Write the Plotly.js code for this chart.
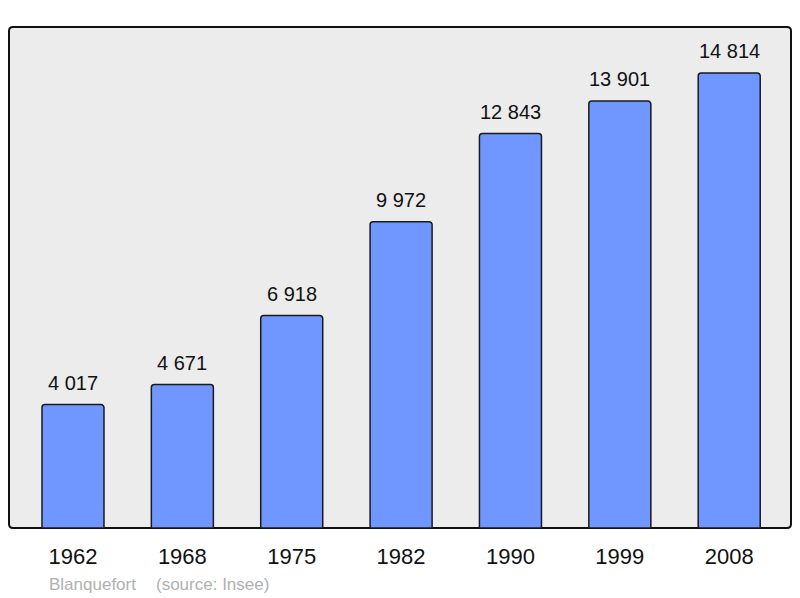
<!DOCTYPE html>
<html>
<head>
<meta charset="utf-8">
<script src="https://cdn.plot.ly/plotly-3.0.1.min.js"></script>
<style>html,body{margin:0;padding:0;background:#fff;}#chart{width:800px;height:598px;}</style>
</head>
<body>
<div id="chart"></div>
<script>
var years = ["1962", "1968", "1975", "1982", "1990", "1999", "2008"];
var population = [4017, 4671, 6918, 9972, 12843, 13901, 14814];
var commune = "Blanquefort";
var source = "(source: Insee)";

function fmt(v) {
  return String(v).replace(/\B(?=(\d{3})+(?!\d))/g, " ");
}

var trace = {
  type: "bar",
  x: years,
  y: population,
  width: 0.567,
  marker: {color: "#7097ff", line: {color: "#1a1a1a", width: 1.5}, cornerradius: 3},
  hoverinfo: "none"
};

var annotations = years.map(function (yr, i) {
  return {
    x: i, y: population[i], xref: "x", yref: "y",
    text: fmt(population[i]), showarrow: false,
    yanchor: "bottom", yshift: 9,
    font: {family: "Liberation Sans, Arial, sans-serif", size: 20, color: "#111"}
  };
});
annotations.push({
  xref: "paper", yref: "paper", x: (47 - 9) / 782, y: -(584 - 528) / 501,
  xanchor: "left", yanchor: "middle", showarrow: false, text: commune,
  font: {family: "Liberation Sans, Arial, sans-serif", size: 17, color: "#b0b0b0"}
});
annotations.push({
  xref: "paper", yref: "paper", x: (154 - 9) / 782, y: -(584 - 528) / 501,
  xanchor: "left", yanchor: "middle", showarrow: false, text: source,
  font: {family: "Liberation Sans, Arial, sans-serif", size: 17, color: "#b0b0b0"}
});

var rx = 4 / 782, ry = 4 / 501;
var framePath = "M " + rx + ",0 L " + (1 - rx) + ",0 Q 1,0 1," + ry +
  " L 1," + (1 - ry) + " Q 1,1 " + (1 - rx) + ",1 L " + rx + ",1 Q 0,1 0," + (1 - ry) +
  " L 0," + ry + " Q 0,0 " + rx + ",0 Z";

var layout = {
  width: 800, height: 598,
  margin: {l: 9, r: 9, t: 27, b: 70, pad: 0},
  paper_bgcolor: "#ffffff",
  plot_bgcolor: "rgba(0,0,0,0)",
  showlegend: false,
  xaxis: {
    type: "category", range: [-0.585, 6.565], showgrid: false, zeroline: false,
    showline: false, ticks: "", ticklabelstandoff: 13,
    tickfont: {family: "Liberation Sans, Arial, sans-serif", size: 22, color: "#111"},
    fixedrange: true
  },
  yaxis: {
    range: [0, 16312], showgrid: false, zeroline: false, showline: false,
    showticklabels: false, ticks: "", fixedrange: true
  },
  shapes: [{
    type: "path", xref: "paper", yref: "paper", layer: "below",
    path: framePath,
    fillcolor: "#ececec", line: {color: "#111", width: 2}
  }],
  annotations: annotations
};

Plotly.newPlot("chart", [trace], layout, {displayModeBar: false, staticPlot: true});
</script>
</body>
</html>
